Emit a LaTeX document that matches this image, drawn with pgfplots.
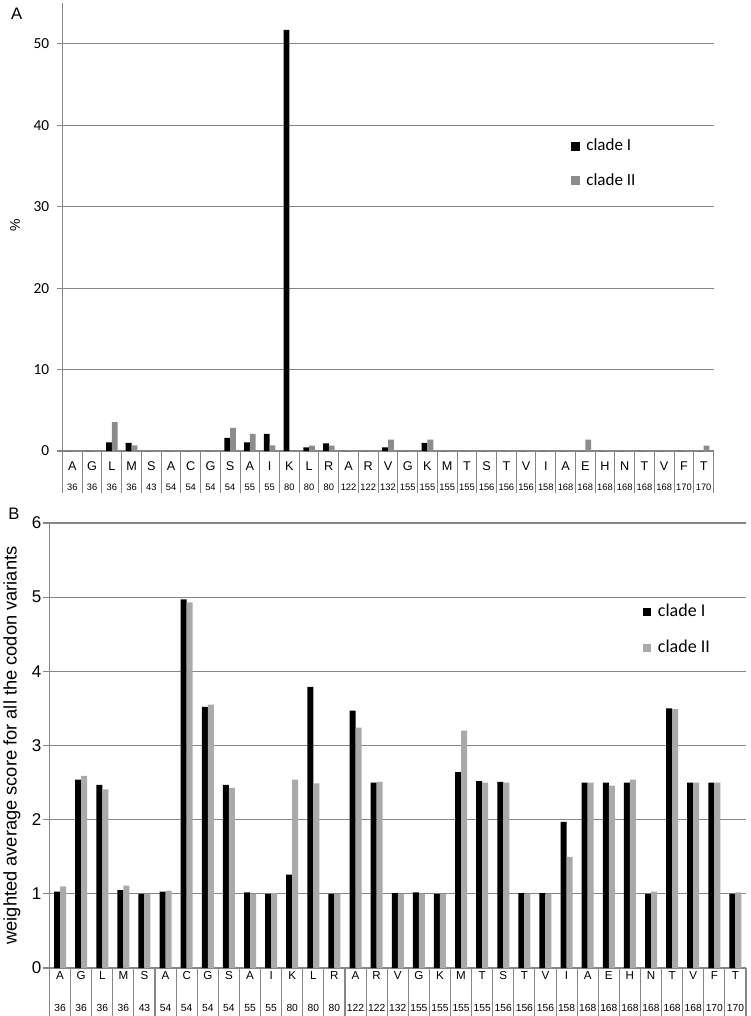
\documentclass[border=0pt]{standalone}
\usepackage{fontspec}
\setmainfont{Liberation Sans}
\newfontfamily\calfont{Carlito}
\usepackage{pgfplots}
\pgfplotsset{compat=1.18}
\definecolor{gridc}{RGB}{134,134,134}
\definecolor{grayA}{RGB}{140,140,140}
\definecolor{grayB}{RGB}{170,170,170}
\begin{document}
\begin{tikzpicture}
\useasboundingbox (0,0) rectangle (562.5pt,-762pt);
\pgfplotsset{
 common/.style={
  scale only axis, anchor=south west,
  xmin=-0.5, xmax=32.5, ymin=0,
  /pgf/number format/assume math mode=true,
  axis x line=bottom, axis y line=left,
  axis line style={-, draw=gridc, line width=0.8pt},
  ymajorgrids, grid style={draw=gridc, line width=0.8pt},
  tick align=outside,
  xtick={0,...,32},
  xticklabels={A,G,L,M,S,A,C,G,S,A,I,K,L,R,A,R,V,G,K,M,T,S,T,V,I,A,E,H,N,T,V,F,T},
  extra x ticks={0,...,32},
  extra x tick labels={36,36,36,36,43,54,54,54,54,55,55,80,80,80,122,122,132,155,155,155,155,156,156,156,158,168,168,168,168,168,168,170,170},
  minor xtick={-0.5,0.5,...,32.5},
  major x tick style={draw=none},
  minor x tick style={draw=gridc, line width=0.8pt},
  ytick style={draw=gridc, line width=0.8pt},
  ybar=0pt,
  legend cell align=left,
  legend image code/.code={\fill[##1] (0pt,-3.4pt) rectangle (6.9pt,3.4pt);},
 }
}
% Panel A
\begin{axis}[common,
  at={(46.875pt,-338.25pt)}, width=488.25pt, height=336pt,
  ymax=55, ytick={0,10,...,50},
  major tick length=3.75pt, minor tick length=31.5pt,
  bar width=4.35pt,
  yticklabel style={font=\calfont\fontsize{11.5}{13}\selectfont, inner xsep=6pt},
  xticklabel style={font=\fontsize{9.5}{11}\selectfont, anchor=base, yshift=-11pt},
  extra x tick style={major tick length=0pt, xticklabel style={font=\fontsize{7}{8}\selectfont, yshift=-18.5pt}},
  ylabel={\%}, ylabel style={font=\fontsize{10.5}{12}\selectfont, at={(axis description cs:-0.073,0.504)}, anchor=center},
  legend style={at={(0.781,0.642)}, anchor=west, draw=none, fill=none, inner sep=0pt,
    font=\calfont\fontsize{12.75}{15}\selectfont, row sep=14.5pt, column sep=4.5pt,
    nodes={inner sep=0pt, text height=9pt, text depth=2.5pt}},
]
\addplot[fill=black, draw=none] coordinates {
(0,0) (1,0) (2,1.05) (3,1.0) (4,0) (5,0) (6,0) (7,0) (8,1.6) (9,1.05) (10,2.1) (11,51.7) (12,0.45) (13,0.95) (14,0) (15,0) (16,0.45) (17,0) (18,1.0) (19,0) (20,0) (21,0) (22,0) (23,0) (24,0) (25,0) (26,0) (27,0) (28,0) (29,0) (30,0) (31,0) (32,0)};
\addplot[fill=grayA, draw=none] coordinates {
(0,0) (1,0) (2,3.55) (3,0.7) (4,0) (5,0) (6,0) (7,0) (8,2.85) (9,2.1) (10,0.7) (11,0) (12,0.65) (13,0.65) (14,0) (15,0) (16,1.4) (17,0) (18,1.4) (19,0) (20,0) (21,0) (22,0) (23,0) (24,0) (25,0) (26,1.4) (27,0) (28,0) (29,0) (30,0) (31,0) (32,0.65)};
\legend{clade I, clade II}
\end{axis}
% Panel B
\begin{axis}[common,
  at={(37.125pt,-726pt)}, width=522.375pt, height=333.75pt,
  ymax=6, ytick={0,...,6},
  major tick length=4.5pt, minor tick length=36pt,
  bar width=4.5pt,
  yticklabel style={font=\fontsize{12.75}{15}\selectfont, inner xsep=1.5pt},
  xticklabel style={font=\fontsize{8.7}{10}\selectfont, anchor=base, yshift=-4pt},
  extra x tick style={major tick length=0pt, xticklabel style={font=\fontsize{7.7}{9}\selectfont, yshift=-28.5pt}},
  ylabel={weighted average score for all the codon variants},
  ylabel style={font=\fontsize{13.7}{16}\selectfont, at={(axis description cs:-0.0538,0.5)}, anchor=center},
  legend style={at={(0.852,0.76)}, anchor=west, draw=none, fill=none, inner sep=0pt,
    font=\calfont\fontsize{13.5}{16}\selectfont, row sep=15pt, column sep=5.5pt,
    nodes={inner sep=0pt, text height=9.5pt, text depth=2.5pt}},
  legend image code/.code={\fill[#1] (0pt,-2.8pt) rectangle (5.6pt,2.8pt);},
]
\addplot[fill=black, draw=none] coordinates {
(0,1.03) (1,2.54) (2,2.47) (3,1.05) (4,1.0) (5,1.03) (6,4.97) (7,3.52) (8,2.47) (9,1.02) (10,1.0) (11,1.26) (12,3.79) (13,1.0) (14,3.47) (15,2.5) (16,1.01) (17,1.02) (18,1.0) (19,2.64) (20,2.52) (21,2.51) (22,1.01) (23,1.01) (24,1.97) (25,2.5) (26,2.5) (27,2.5) (28,1.0) (29,3.5) (30,2.5) (31,2.5) (32,1.0)};
\addplot[fill=grayB, draw=none] coordinates {
(0,1.1) (1,2.59) (2,2.41) (3,1.11) (4,1.0) (5,1.045) (6,4.93) (7,3.55) (8,2.43) (9,1.0) (10,1.01) (11,2.54) (12,2.49) (13,1.0) (14,3.24) (15,2.51) (16,1.0) (17,1.0) (18,1.0) (19,3.2) (20,2.5) (21,2.5) (22,1.0) (23,1.0) (24,1.5) (25,2.5) (26,2.46) (27,2.54) (28,1.03) (29,3.49) (30,2.5) (31,2.5) (32,1.02)};
\legend{clade I, clade II}
\end{axis}
\node[font=\fontsize{12.5}{14}\selectfont] at (12.5pt,-10pt) {A};
\node[font=\fontsize{12.5}{14}\selectfont] at (10.5pt,-385.5pt) {B};
\end{tikzpicture}
\end{document}
